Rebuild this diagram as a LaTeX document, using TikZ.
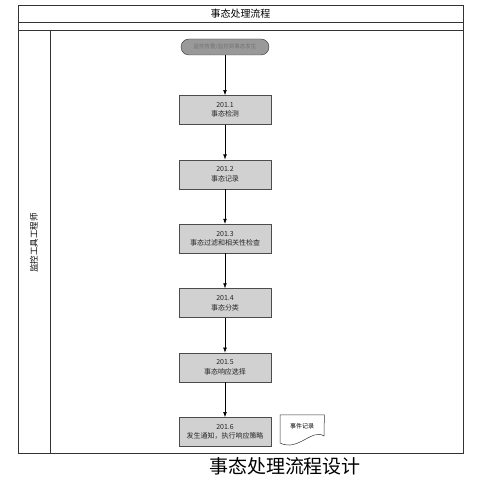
\documentclass[tikz,border=0pt]{standalone}
\usepackage{fontspec}
\setmainfont{Noto Sans CJK SC}
\usepackage{tikz}
\usetikzlibrary{arrows.meta,positioning}

\begin{document}
\begin{tikzpicture}[x=1pt,y=-1pt,
 stepbox/.style={draw=black!70,fill=black!18,minimum height=29pt,minimum width=92pt,align=center,font=\fontsize{7}{9.5}\selectfont,text=black!85,inner sep=1pt},
 startbox/.style={draw=black!80,fill=black!40,rounded corners=8pt,minimum height=16pt,minimum width=88pt,font=\fontsize{5.5}{7}\selectfont,text=black!55,inner sep=1pt},
 frame/.style={draw=black!80,line width=.7pt},
 flow/.style={-{Latex[length=1.8mm,width=1.3mm]},draw=black,line width=.6pt}
]
\useasboundingbox (0,0) rectangle (483,481);
% swimlane frame
\draw[frame] (18,5) rectangle (463,453);
\draw[frame] (18,22) -- (463,22);
\draw[frame] (18,30) -- (463,30);
\draw[frame] (50,30) -- (50,453);
\node[font=\fontsize{10}{12}\selectfont] (title) at (240.5,13.5) {事态处理流程};
\node[rotate=90,font=\fontsize{8.5}{10}\selectfont] (lane) at (34,243) {监控工具工程师};
% process
\node[startbox] (begin) at (225,47) {监控告警/监控到事态发生};
\node[stepbox,below=40pt of begin] (s1) {201.1\\事态检测};
\node[stepbox,below=35pt of s1] (s2) {201.2\\事态记录};
\node[stepbox,below=35pt of s2] (s3) {201.3\\事态过滤和相关性检查};
\node[stepbox,below=35pt of s3] (s4) {201.4\\事态分类};
\node[stepbox,below=35pt of s4] (s5) {201.5\\事态响应选择};
\node[stepbox,below=35pt of s5] (s6) {201.6\\发生通知，执行响应策略};
\node[font=\fontsize{6}{8}\selectfont,minimum width=44pt,minimum height=22pt,anchor=north west] (rec) at (280,415) {事件记录};
\draw[draw=black!80,line width=.5pt] (rec.north west) -- (rec.north east) -- (324,436)
  .. controls (312,428) and (298,452) .. (280,443) -- cycle;
\draw[flow] (begin)--(s1);
\draw[flow] (s1)--(s2);
\draw[flow] (s2)--(s3);
\draw[flow] (s3)--(s4);
\draw[flow] (s4)--(s5);
\draw[flow] (s5)--(s6);
% caption
\node[font=\fontsize{19}{22}\selectfont] (caption) at (285,466) {事态处理流程设计};
\end{tikzpicture}
\end{document}
